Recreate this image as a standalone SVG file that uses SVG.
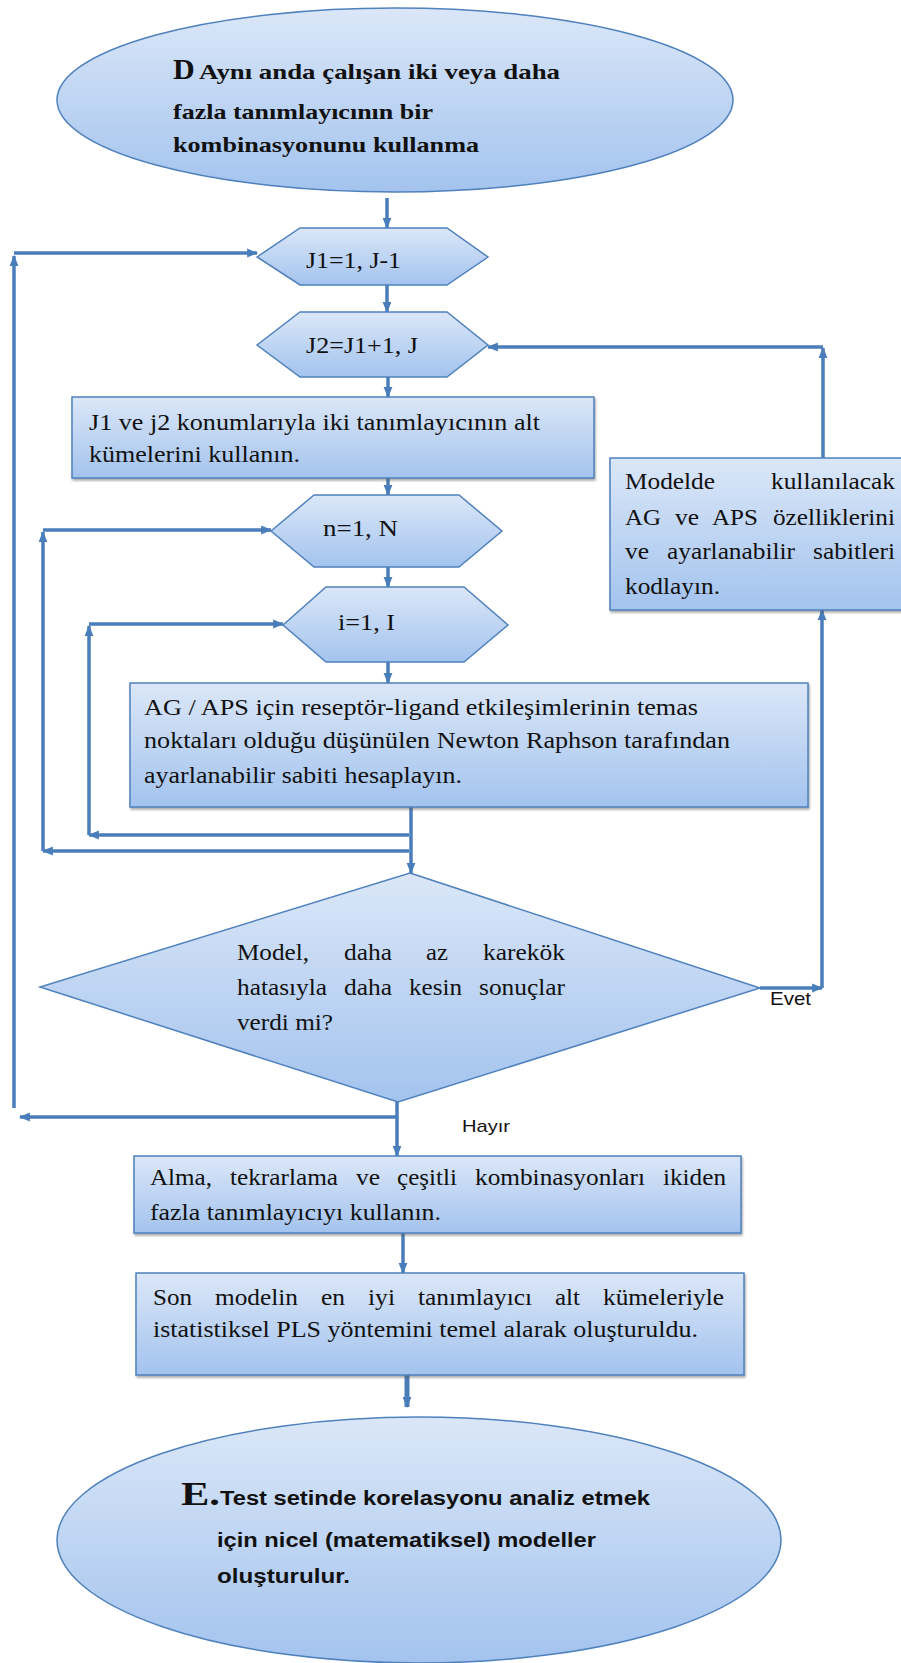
<svg xmlns="http://www.w3.org/2000/svg" width="901" height="1663" viewBox="0 0 901 1663">
<style>
.node{stroke:#4f81bd;stroke-width:1.5;fill:url(#gb)}
.box{stroke:#4f81bd;stroke-width:1.5;fill:url(#gb);filter:url(#sh)}
.t{font-family:"Liberation Serif","Times New Roman",serif;font-size:23px;fill:#111}
.tb{font-family:"Liberation Serif","Times New Roman",serif;font-size:22px;font-weight:bold;fill:#111}
.s{font-family:"Liberation Sans",Arial,sans-serif;font-size:17px;fill:#111}
.sb{font-family:"Liberation Sans",Arial,sans-serif;font-size:20px;font-weight:bold;fill:#111}
.c{fill:none;stroke:#4a7ebb;stroke-width:3.5}
</style>
<defs>
<linearGradient id="gb" x1="0" y1="0" x2="0" y2="1">
<stop offset="0" stop-color="#dbe7f8"/>
<stop offset="1" stop-color="#a3c3ee"/>
</linearGradient>
<filter id="sh" x="-5%" y="-5%" width="110%" height="120%">
<feDropShadow dx="1" dy="2" stdDeviation="1.2" flood-color="#555" flood-opacity="0.5"/>
</filter>
<marker id="ah" viewBox="0 0 10 10" refX="9" refY="5" markerWidth="11" markerHeight="11" markerUnits="userSpaceOnUse" orient="auto">
<path d="M0,1 L10,5 L0,9 Z" fill="#4a7ebb"/>
</marker>
</defs>

<g id="connectors">
<path class="c" d="M387,198 V228" marker-end="url(#ah)"/>
<path class="c" d="M387,285 V312" marker-end="url(#ah)"/>
<path class="c" d="M388,377 V397" marker-end="url(#ah)"/>
<path class="c" d="M388,478 V495" marker-end="url(#ah)"/>
<path class="c" d="M388,567 V587" marker-end="url(#ah)"/>
<path class="c" d="M388,662 V683" marker-end="url(#ah)"/>
<path class="c" d="M411,807 V873" marker-end="url(#ah)"/>
<path class="c" d="M409,835 H89" marker-end="url(#ah)"/>
<path class="c" d="M89,835 V626" marker-end="url(#ah)"/>
<path class="c" d="M89,624 H283" marker-end="url(#ah)"/>
<path class="c" d="M409,851 H43" marker-end="url(#ah)"/>
<path class="c" d="M43,851 V532" marker-end="url(#ah)"/>
<path class="c" d="M43,530 H271" marker-end="url(#ah)"/>
<path class="c" d="M14,1108 V256" marker-end="url(#ah)"/>
<path class="c" d="M14,253 H257" marker-end="url(#ah)"/>
<path class="c" d="M397,1102 V1156" marker-end="url(#ah)"/>
<path class="c" d="M397,1117 H20" marker-end="url(#ah)"/>
<path class="c" d="M760,988 H822" marker-end="url(#ah)"/>
<path class="c" d="M822,988 V610" marker-end="url(#ah)"/>
<path class="c" d="M823,458 V348" marker-end="url(#ah)"/>
<path class="c" d="M823,347 H488" marker-end="url(#ah)"/>
<path class="c" d="M403,1233 V1273" marker-end="url(#ah)"/>
<path class="c" d="M407,1375 V1407" style="stroke-width:5" marker-end="url(#ah)"/>
</g>

<g id="start">
<ellipse class="node" cx="395" cy="100" rx="338" ry="92"/>
<text class="tb" x="173" y="79" style="font-size:30px">D</text>
<text class="tb" x="199" y="79" textLength="361" lengthAdjust="spacingAndGlyphs">Aynı anda çalışan iki veya daha</text>
<text class="tb" x="173" y="119" textLength="260" lengthAdjust="spacingAndGlyphs">fazla tanımlayıcının bir</text>
<text class="tb" x="173" y="152" textLength="306" lengthAdjust="spacingAndGlyphs">kombinasyonunu kullanma</text>
</g>

<g id="loopJ1">
<polygon class="node" points="257,257 300,228 447,228 488,257 447,285 300,285"/>
<text class="t" x="306" y="268" textLength="95" lengthAdjust="spacingAndGlyphs">J1=1, J-1</text>
</g>

<g id="loopJ2">
<polygon class="node" points="257,345 300,312 447,312 488,345 447,377 300,377"/>
<text class="t" x="306" y="353" textLength="112" lengthAdjust="spacingAndGlyphs">J2=J1+1, J</text>
</g>

<g id="subsets">
<rect class="box" x="72" y="397" width="522" height="81"/>
<text class="t" x="89" y="430" textLength="451" lengthAdjust="spacingAndGlyphs">J1 ve j2 konumlarıyla iki tanımlayıcının alt</text>
<text class="t" x="89" y="462" textLength="211" lengthAdjust="spacingAndGlyphs">kümelerini kullanın.</text>
</g>

<g id="loopN">
<polygon class="node" points="271,531 314,495 459,495 502,531 459,567 314,567"/>
<text class="t" x="323" y="536" textLength="75" lengthAdjust="spacingAndGlyphs">n=1, N</text>
</g>

<g id="loopI">
<polygon class="node" points="283,625 326,587 464,587 508,625 464,662 326,662"/>
<text class="t" x="338" y="630" textLength="57" lengthAdjust="spacingAndGlyphs">i=1, I</text>
</g>

<g id="compute">
<rect class="box" x="130" y="683" width="678" height="124"/>
<text class="t" x="144" y="715" textLength="554" lengthAdjust="spacingAndGlyphs">AG / APS için reseptör-ligand etkileşimlerinin temas</text>
<text class="t" x="144" y="748" textLength="586" lengthAdjust="spacingAndGlyphs">noktaları olduğu düşünülen Newton Raphson tarafından</text>
<text class="t" x="144" y="783" textLength="318" lengthAdjust="spacingAndGlyphs">ayarlanabilir sabiti hesaplayın.</text>
</g>

<g id="encode">
<rect class="box" x="610" y="458" width="300" height="152"/>
<text class="t" x="625" y="489" textLength="90" lengthAdjust="spacingAndGlyphs">Modelde</text>
<text class="t" x="771" y="489" textLength="124" lengthAdjust="spacingAndGlyphs">kullanılacak</text>
<text class="t" x="625" y="525" textLength="36" lengthAdjust="spacingAndGlyphs">AG</text>
<text class="t" x="675" y="525" textLength="24" lengthAdjust="spacingAndGlyphs">ve</text>
<text class="t" x="712" y="525" textLength="46" lengthAdjust="spacingAndGlyphs">APS</text>
<text class="t" x="773" y="525" textLength="122" lengthAdjust="spacingAndGlyphs">özelliklerini</text>
<text class="t" x="625" y="559" textLength="24" lengthAdjust="spacingAndGlyphs">ve</text>
<text class="t" x="667" y="559" textLength="128" lengthAdjust="spacingAndGlyphs">ayarlanabilir</text>
<text class="t" x="813" y="559" textLength="82" lengthAdjust="spacingAndGlyphs">sabitleri</text>
<text class="t" x="625" y="594" textLength="95" lengthAdjust="spacingAndGlyphs">kodlayın.</text>
</g>

<g id="decision">
<polygon class="node" points="410,873 760,988 398,1102 40,987"/>
<text class="t" x="237" y="960" textLength="72" lengthAdjust="spacingAndGlyphs">Model,</text>
<text class="t" x="344" y="960" textLength="48" lengthAdjust="spacingAndGlyphs">daha</text>
<text class="t" x="426" y="960" textLength="22" lengthAdjust="spacingAndGlyphs">az</text>
<text class="t" x="483" y="960" textLength="82" lengthAdjust="spacingAndGlyphs">karekök</text>
<text class="t" x="237" y="995" textLength="90" lengthAdjust="spacingAndGlyphs">hatasıyla</text>
<text class="t" x="344" y="995" textLength="48" lengthAdjust="spacingAndGlyphs">daha</text>
<text class="t" x="409" y="995" textLength="53" lengthAdjust="spacingAndGlyphs">kesin</text>
<text class="t" x="479" y="995" textLength="86" lengthAdjust="spacingAndGlyphs">sonuçlar</text>
<text class="t" x="237" y="1030" textLength="96" lengthAdjust="spacingAndGlyphs">verdi mi?</text>
<text class="s" x="770" y="1005" style="font-size:19px" textLength="41" lengthAdjust="spacingAndGlyphs">Evet</text>
<text class="s" x="462" y="1132" textLength="48" lengthAdjust="spacingAndGlyphs">Hayır</text>
</g>

<g id="combine">
<rect class="box" x="134" y="1156" width="607" height="77"/>
<text class="t" x="150" y="1185" textLength="62" lengthAdjust="spacingAndGlyphs">Alma,</text>
<text class="t" x="230" y="1185" textLength="108" lengthAdjust="spacingAndGlyphs">tekrarlama</text>
<text class="t" x="356" y="1185" textLength="24" lengthAdjust="spacingAndGlyphs">ve</text>
<text class="t" x="397" y="1185" textLength="60" lengthAdjust="spacingAndGlyphs">çeşitli</text>
<text class="t" x="475" y="1185" textLength="170" lengthAdjust="spacingAndGlyphs">kombinasyonları</text>
<text class="t" x="663" y="1185" textLength="63" lengthAdjust="spacingAndGlyphs">ikiden</text>
<text class="t" x="150" y="1220" textLength="291" lengthAdjust="spacingAndGlyphs">fazla tanımlayıcıyı kullanın.</text>
</g>

<g id="final">
<rect class="box" x="136" y="1273" width="608" height="102"/>
<text class="t" x="153" y="1305" textLength="39" lengthAdjust="spacingAndGlyphs">Son</text>
<text class="t" x="215" y="1305" textLength="83" lengthAdjust="spacingAndGlyphs">modelin</text>
<text class="t" x="321" y="1305" textLength="24" lengthAdjust="spacingAndGlyphs">en</text>
<text class="t" x="368" y="1305" textLength="27" lengthAdjust="spacingAndGlyphs">iyi</text>
<text class="t" x="418" y="1305" textLength="114" lengthAdjust="spacingAndGlyphs">tanımlayıcı</text>
<text class="t" x="555" y="1305" textLength="25" lengthAdjust="spacingAndGlyphs">alt</text>
<text class="t" x="603" y="1305" textLength="121" lengthAdjust="spacingAndGlyphs">kümeleriyle</text>
<text class="t" x="153" y="1337" textLength="545" lengthAdjust="spacingAndGlyphs">istatistiksel PLS yöntemini temel alarak oluşturuldu.</text>
</g>

<g id="end">
<ellipse class="node" cx="419" cy="1540" rx="362" ry="123"/>
<text class="tb" x="181" y="1505" style="font-size:34px" textLength="39" lengthAdjust="spacingAndGlyphs">E.</text>
<text class="sb" x="220" y="1505" textLength="430" lengthAdjust="spacingAndGlyphs">Test setinde korelasyonu analiz etmek</text>
<text class="sb" x="217" y="1547" textLength="379" lengthAdjust="spacingAndGlyphs">için nicel (matematiksel) modeller</text>
<text class="sb" x="217" y="1583" textLength="133" lengthAdjust="spacingAndGlyphs">oluşturulur.</text>
</g>
</svg>
